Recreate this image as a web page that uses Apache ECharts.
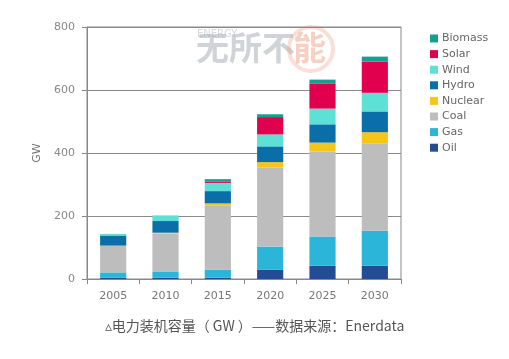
<!DOCTYPE html>
<html><head><meta charset="utf-8">
<script src="https://cdn.jsdelivr.net/npm/echarts@6/dist/echarts.min.js"></script>
<style>html,body{margin:0;padding:0;background:#fff}#c{width:509px;height:359px}</style>
</head><body><div id="c"></div>
<script>
const categories = ['2005','2010','2015','2020','2025','2030'];
const oil     = [4, 4, 4, 29, 42, 42];
const gas     = [17, 20, 26, 74, 93, 111];
const coal    = [84, 120, 203, 251, 270, 278];
const nuclear = [1, 3, 7, 17, 28, 35];
const hydro   = [32, 37, 39, 50, 58, 66];
const wind    = [4, 16, 26, 38, 50, 59];
const solar   = [0, 0, 5, 55, 80, 99];
const biomass = [1, 1, 7, 9, 12, 16];
const yTicks = [0, 200, 400, 600, 800];

const seriesDefs = [
  ['Oil', oil, '#234b96'],
  ['Gas', gas, '#2bb5d8'],
  ['Coal', coal, '#bdbdbd'],
  ['Nuclear', nuclear, '#f5c518'],
  ['Hydro', hydro, '#0a6ea8'],
  ['Wind', wind, '#5ce1d4'],
  ['Solar', solar, '#e0004d'],
  ['Biomass', biomass, '#1a9e8f']
];

const chart = echarts.init(document.getElementById('c'));
chart.setOption({
  animation: false,
  grid: {left: 87, right: 108, top: 27, bottom: 80, show: true, borderColor: '#888', borderWidth: 1},
  legend: {
    orient: 'vertical', left: 425, top: 28, itemWidth: 8, itemHeight: 8, itemGap: 4.6,
    icon: 'rect',
    data: ['Biomass','Solar','Wind','Hydro','Nuclear','Coal','Gas','Oil'],
    textStyle: {color: '#666', fontSize: 11, fontFamily: 'DejaVu Sans', padding: [0,0,0,-1]}
  },
  xAxis: {
    type: 'category', data: categories,
    axisLine: {lineStyle: {color: '#888'}},
    axisTick: {show: true, length: 5, lineStyle: {color: '#888'}},
    axisLabel: {color: '#777', fontSize: 11, margin: 12, fontFamily: 'DejaVu Sans'}
  },
  yAxis: {
    type: 'value', min: 0, max: 800, interval: 200,
    name: 'GW', nameLocation: 'middle', nameGap: 40, nameRotate: 90,
    nameTextStyle: {color: '#777', fontSize: 11, fontFamily: 'DejaVu Sans'},
    axisLine: {show: true, lineStyle: {color: '#888'}},
    axisTick: {show: true, length: 5, lineStyle: {color: '#888'}},
    axisLabel: {color: '#888', fontSize: 11, margin: 12, fontFamily: 'DejaVu Sans',
      formatter: v => yTicks.includes(v) ? String(v) : ''},
    splitLine: {lineStyle: {color: '#8a8a8a'}}
  },
  graphic: [
    {type: 'text', left: 'center', top: 319,
      style: {text: '▵电力装机容量（ GW ）——数据来源：Enerdata', fill: '#555', fontSize: 14,
        fontFamily: 'Noto Sans CJK SC'}},
    {type: 'text', left: 196, top: 31, z: 0,
      style: {text: '无所不', fill: 'rgba(150,160,170,0.45)', fontSize: 33, fontWeight: 'bold',
        fontFamily: 'Noto Sans CJK SC'}},
    {type: 'text', left: 293, top: 31, z: 0,
      style: {text: '能', fill: 'rgba(235,150,120,0.45)', fontSize: 33, fontWeight: 'bold',
        fontFamily: 'Noto Sans CJK SC'}},
    {type: 'circle', z: 0, shape: {cx: 311, cy: 49, r: 22},
      style: {fill: 'none', stroke: 'rgba(235,150,120,0.3)', lineWidth: 4}},
    {type: 'text', left: 197, top: 29, z: 0,
      style: {text: 'ENERGY', fill: 'rgba(150,160,170,0.4)', fontSize: 10,
        fontFamily: 'DejaVu Sans'}}
  ],
  series: seriesDefs.map(([name, data, color]) => ({
    name, type: 'bar', stack: 'total', data, barWidth: '50%',
    itemStyle: {color}
  }))
});
</script>
</body></html>
